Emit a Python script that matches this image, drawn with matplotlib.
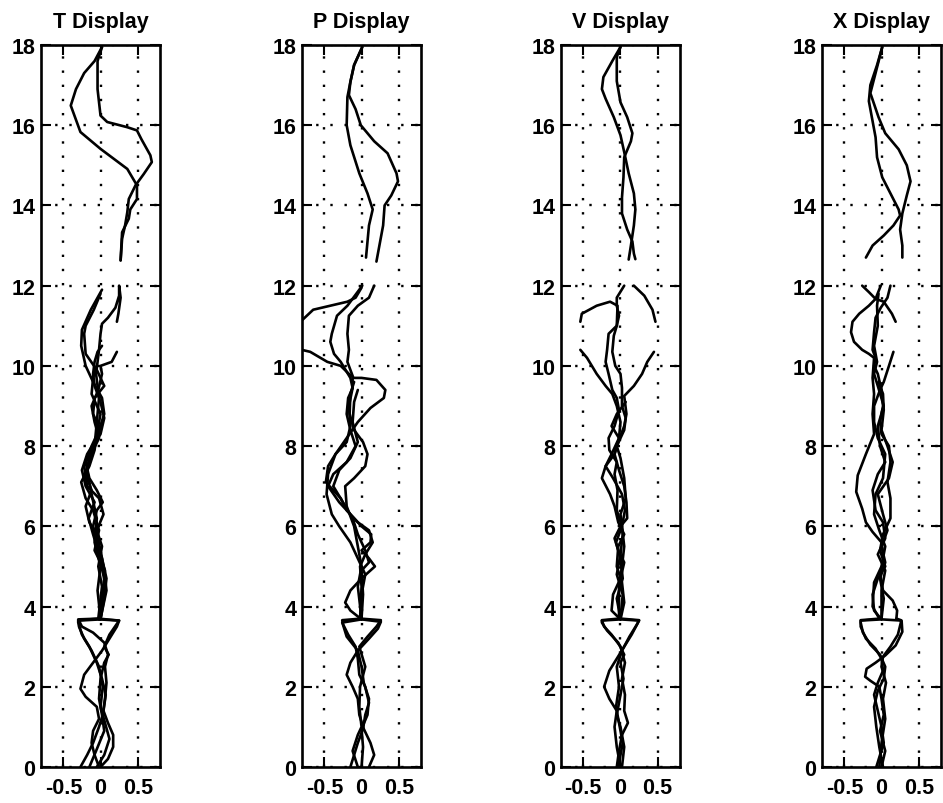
import matplotlib
matplotlib.use('Agg')
import matplotlib.pyplot as plt

plt.rcParams['font.family'] = ['Liberation Sans', 'DejaVu Sans']
plt.rcParams['axes.unicode_minus'] = False

titles = ['T Display', 'P Display', 'V Display', 'X Display']
x_ticks = [-0.5, 0, 0.5]
x_labels = ['-0.5', '0', '0.5']
y_ticks = [0, 2, 4, 6, 8, 10, 12, 14, 16, 18]
y_labels = ['0', '2', '4', '6', '8', '10', '12', '14', '16', '18']

# ---------------- T Display ----------------
t_low_1 = [(-0.27,0.0),(-0.18,0.3),(-0.1,0.6),(-0.02,1.0),(0.03,1.3),(0.06,1.7),(0.08,2.1),(0.06,2.5),(0.1,2.8),(0.05,3.1),(-0.1,3.35),(-0.25,3.5),(-0.29,3.65),(0.0,3.68)]
t_low_2 = [(-0.02,0.0),(-0.08,0.3),(-0.12,0.6),(-0.1,0.9),(-0.02,1.2),(-0.05,1.5),(-0.2,1.75),(-0.27,1.95),(-0.22,2.3),(-0.1,2.6),(0.02,2.9),(0.12,3.2),(0.22,3.5),(0.25,3.65),(-0.02,3.68)]
t_low_3 = [(0.0,0.0),(0.1,0.2),(0.17,0.5),(0.17,0.8),(0.1,1.1),(0.04,1.4),(0.07,1.8),(0.02,2.2),(-0.05,2.6),(-0.15,3.0),(-0.25,3.3),(-0.3,3.6),(-0.3,3.68),(0.0,3.7)]
t_low_4 = [(-0.15,0.0),(-0.06,0.4),(0.05,0.9),(0.02,1.3),(-0.02,1.7),(0.0,2.2),(0.05,2.6),(0.11,2.8),(0.05,3.0),(0.12,3.3),(0.25,3.65),(-0.03,3.7)]
t_low_5 = [(-0.05,0.0),(0.05,0.3),(0.12,0.7),(0.06,1.1),(0.0,1.5),(0.03,2.0),(-0.02,2.5),(-0.12,2.9),(-0.22,3.2),(-0.29,3.5),(-0.29,3.66),(0.0,3.7)]
t_up_1 = [(0.0,3.68),(0.05,4.2),(0.08,4.7),(0.02,5.2),(-0.05,5.6),(-0.1,6.0),(-0.05,6.4),(0.03,6.6),(-0.05,6.9),(-0.15,7.2),(-0.2,7.6),(-0.12,8.0),(-0.02,8.4),(0.05,8.8),(0.02,9.2),(-0.1,9.6),(-0.2,10.0),(-0.26,10.5),(-0.25,10.9),(-0.13,11.4),(0.02,11.9)]
t_up_2 = [(-0.02,3.68),(0.03,4.3),(0.06,4.9),(-0.02,5.3),(-0.1,5.8),(-0.16,6.2),(-0.08,6.6),(-0.2,7.0),(-0.25,7.4),(-0.18,7.8),(-0.08,8.1),(0.0,8.4),(-0.1,8.8),(-0.08,9.2),(0.05,9.5),(-0.05,9.9),(-0.2,10.3),(-0.22,10.8),(-0.2,11.0),(-0.09,11.4),(0.0,11.8)]
t_up_3 = [(0.0,3.7),(0.08,4.4),(0.05,4.9),(0.0,5.4),(-0.05,5.8),(-0.15,6.1),(-0.2,6.5),(-0.12,6.9),(-0.2,7.3),(-0.15,7.7),(-0.02,8.2),(-0.08,8.6),(-0.12,9.0),(-0.03,9.4),(0.02,9.8),(0.0,10.0),(0.15,10.1),(0.22,10.35)]
t_up_4 = [(-0.03,3.7),(0.02,4.5),(-0.03,5.0),(0.02,5.5),(-0.05,5.9),(0.04,6.3),(-0.02,6.7),(-0.18,7.0),(-0.22,7.5),(-0.12,7.9),(0.0,8.3),(0.05,8.7),(0.0,9.1),(-0.08,9.5),(-0.1,9.8),(-0.08,10.1),(-0.04,10.35),(0.02,10.5)]
t_up_5 = [(0.0,3.7),(-0.04,4.4),(0.0,5.0),(-0.08,5.6),(-0.05,6.2),(-0.12,6.8),(-0.18,7.4),(-0.08,8.0),(-0.05,8.6),(-0.02,9.2),(-0.06,9.8),(-0.02,10.4),(0.0,10.8),(0.02,11.05),(0.1,11.2),(0.2,11.45),(0.25,11.75),(0.25,12.0),(0.27,11.7),(0.24,11.3),(0.22,11.1)]
t_up_6 = [(0.0,3.7),(0.06,4.6),(0.0,5.1),(-0.08,5.4),(-0.02,5.9),(-0.1,6.4),(-0.2,6.7),(-0.26,7.1),(-0.15,7.5),(-0.08,7.9),(-0.05,8.3),(0.0,8.8),(-0.12,9.3),(-0.1,9.7),(-0.05,10.0)]
t_top_1 = [(0.27,12.63),(0.29,13.33),(0.38,13.67),(0.40,13.9),(0.49,14.16),(0.49,14.5),(0.36,14.91),(0.0,15.41),(-0.27,15.83),(-0.40,16.49),(-0.33,16.9),(-0.22,17.3),(-0.08,17.6),(0.02,17.95)]
t_top_2 = [(0.27,12.63),(0.29,13.17),(0.33,13.5),(0.36,13.83),(0.38,14.16),(0.47,14.5),(0.58,14.78),(0.69,15.08),(0.67,15.25),(0.55,15.65),(0.49,15.87),(0.36,15.95),(0.09,16.08),(0.0,16.24),(-0.04,16.9),(-0.04,17.6),(0.02,17.95)]

# ---------------- P Display ----------------
p_low_1 = [(-0.15,0.0),(-0.1,0.3),(-0.05,0.6),(0.02,0.95),(0.05,1.3),(0.1,1.6),(0.05,2.0),(-0.03,2.3),(-0.05,2.7),(-0.08,3.0),(-0.18,3.3),(-0.26,3.6),(0.0,3.68)]
p_low_2 = [(0.1,0.0),(0.17,0.3),(0.12,0.6),(0.03,0.95),(-0.03,1.3),(-0.05,1.7),(-0.12,2.0),(-0.2,2.3),(-0.15,2.6),(-0.05,2.9),(0.1,3.2),(0.22,3.45),(0.26,3.62),(0.0,3.68)]
p_low_3 = [(0.0,0.0),(0.02,0.5),(0.0,0.95),(0.08,1.3),(0.1,1.7),(0.03,2.1),(0.0,2.5),(-0.05,2.9),(-0.2,3.25),(-0.25,3.55),(-0.26,3.66),(0.0,3.7)]
p_low_4 = [(-0.05,0.0),(-0.12,0.4),(-0.05,0.8),(0.0,1.0),(-0.03,1.5),(-0.02,2.0),(0.05,2.5),(-0.03,3.0),(0.08,3.25),(0.2,3.5),(0.26,3.66),(-0.02,3.7)]
p_up_1 = [(0.0,3.68),(-0.15,3.9),(-0.22,4.1),(-0.15,4.4),(0.0,4.7),(0.18,5.0),(0.1,5.2),(0.0,5.4),(0.12,5.6),(0.13,5.8),(0.0,6.0),(-0.15,6.3),(-0.3,6.6),(-0.45,7.0),(-0.38,7.3),(-0.2,7.6),(-0.08,8.0),(-0.15,8.4),(-0.2,8.8),(-0.18,9.2),(-0.12,9.45),(-0.12,9.75),(-0.19,10.1),(-0.17,10.4),(-0.19,10.8),(-0.17,11.25),(-0.05,11.5),(0.1,11.7),(0.17,12.0)]
p_up_2 = [(0.0,3.68),(0.0,4.3),(0.05,4.8),(-0.05,5.2),(-0.15,5.6),(-0.3,6.0),(-0.4,6.3),(-0.47,6.8),(-0.45,7.3),(-0.35,7.8),(-0.2,8.2),(-0.05,8.6),(0.12,8.95),(0.3,9.2),(0.32,9.4),(0.2,9.65),(0.0,9.7),(-0.1,9.7),(-0.17,9.8),(-0.28,10.0),(-0.46,10.1),(-0.69,10.35),(-0.85,10.42)]
p_up_3 = [(-0.02,3.7),(0.0,4.5),(-0.02,5.0),(0.05,5.3),(0.15,5.6),(0.1,5.9),(-0.05,6.1),(-0.2,6.4),(-0.28,6.7),(-0.48,7.1),(-0.45,7.5),(-0.35,7.8),(-0.2,8.1),(-0.15,8.5),(-0.17,9.0),(-0.12,9.45),(-0.15,9.7),(-0.28,10.1),(-0.37,10.3),(-0.42,10.6),(-0.4,10.8),(-0.33,11.25),(-0.19,11.5),(0.01,12.0)]
p_up_4 = [(0.0,3.7),(-0.05,4.5),(0.0,5.0),(-0.05,5.5),(-0.1,6.0),(-0.2,6.5),(-0.22,7.0),(-0.1,7.2),(0.05,7.5),(0.08,7.8),(0.02,8.1),(-0.1,8.4),(-0.16,8.8),(-0.15,9.3),(-0.1,9.6)]
p_up_5 = [(0.0,3.7),(0.02,4.3),(0.0,4.9),(0.1,5.1),(0.05,5.4),(-0.05,5.8),(-0.12,6.2),(-0.25,6.6),(-0.38,7.0),(-0.3,7.4),(-0.15,7.7),(-0.05,8.1),(-0.12,8.6),(-0.1,9.1),(-0.05,9.4)]
p_edge = [(0.0,11.95),(-0.08,11.7),(-0.19,11.6),(-0.42,11.5),(-0.65,11.4),(-0.85,11.05)]
p_top_1 = [(0.06,12.7),(0.08,13.1),(0.10,13.5),(0.15,13.9),(0.08,14.3),(-0.03,14.8),(-0.15,15.5),(-0.2,16.0),(-0.19,16.7),(-0.15,17.08),(-0.10,17.5),(0.01,17.95)]
p_top_2 = [(0.2,12.6),(0.24,13.0),(0.29,13.5),(0.31,14.0),(0.40,14.25),(0.49,14.6),(0.47,14.8),(0.35,15.3),(0.17,15.6),(-0.01,16.0),(-0.08,16.4),(-0.17,16.75),(-0.15,17.08),(-0.1,17.5),(0.01,17.95)]

# ---------------- V Display ----------------
v_low_1 = [(-0.05,0.0),(-0.02,0.4),(0.02,0.8),(0.1,1.1),(0.05,1.4),(0.06,1.8),(0.02,2.2),(0.06,2.6),(0.0,3.0),(-0.12,3.3),(-0.22,3.5),(-0.25,3.65),(0.0,3.68)]
v_low_2 = [(0.0,0.0),(-0.05,0.5),(-0.08,1.0),(-0.05,1.4),(-0.15,1.7),(-0.22,2.0),(-0.15,2.4),(-0.05,2.7),(0.05,3.0),(0.15,3.3),(0.25,3.65),(0.0,3.68)]
v_low_3 = [(0.02,0.0),(0.05,0.5),(0.0,1.0),(-0.05,1.3),(0.0,1.8),(0.04,2.2),(0.0,2.6),(0.05,2.8),(-0.03,3.1),(-0.18,3.4),(-0.25,3.6),(-0.25,3.66),(-0.02,3.7)]
v_low_4 = [(-0.03,0.0),(0.03,0.6),(-0.02,1.1),(-0.06,1.5),(-0.02,2.0),(-0.05,2.5),(0.02,2.9),(0.12,3.25),(0.22,3.55),(0.25,3.66),(0.0,3.7)]
v_up_1 = [(0.0,3.68),(-0.12,3.9),(-0.1,4.3),(0.0,4.7),(0.05,5.1),(-0.03,5.4),(-0.08,5.7),(0.0,6.0),(0.09,6.2),(0.08,6.6),(0.05,7.0),(-0.02,7.4),(-0.08,7.8),(-0.02,8.2),(0.0,8.6),(-0.05,9.0),(-0.11,9.3),(-0.2,9.5),(-0.32,9.8),(-0.45,10.2),(-0.54,10.4)]
v_up_2 = [(0.0,3.68),(0.05,4.1),(0.02,4.6),(-0.05,5.0),(-0.03,5.5),(0.05,5.8),(-0.03,6.1),(-0.08,6.5),(-0.14,6.8),(-0.25,7.2),(-0.2,7.5),(-0.08,7.8),(-0.03,8.1),(0.05,8.5),(0.08,8.8),(0.05,9.25),(0.18,9.5),(0.29,9.8),(0.36,10.1),(0.45,10.35)]
v_up_3 = [(-0.02,3.7),(-0.02,4.5),(0.02,5.0),(0.05,5.5),(0.02,6.0),(-0.05,6.4),(-0.04,6.9),(-0.08,7.3),(-0.05,7.6),(-0.15,7.9),(-0.16,8.2),(-0.08,8.5),(-0.02,8.9),(-0.05,9.2),(-0.11,9.4),(-0.16,9.8),(-0.2,10.1),(-0.18,10.4),(-0.16,10.8),(-0.05,11.0),(-0.02,11.25),(-0.05,11.5),(-0.05,11.7),(0.05,12.0)]
v_up_4 = [(0.0,3.7),(0.03,4.3),(-0.05,4.8),(0.0,5.3),(0.03,5.8),(0.0,6.3),(0.07,6.7),(0.05,7.2),(0.0,7.7),(-0.05,8.0),(0.05,8.4),(0.07,8.7),(0.02,9.0),(0.02,9.45),(0.0,9.8),(-0.07,10.0),(-0.11,10.35),(-0.09,10.75),(-0.05,11.0),(-0.04,11.5),(-0.14,11.6),(-0.32,11.5),(-0.52,11.3),(-0.54,11.1)]
v_up_5 = [(0.0,3.7),(-0.05,4.2),(0.03,4.7),(0.0,5.2),(-0.06,5.6),(0.02,6.0),(0.06,6.4),(0.02,6.8),(-0.1,7.2),(-0.2,7.5),(-0.12,7.8),(-0.02,8.2),(-0.12,8.5),(-0.05,8.8),(0.07,9.1)]
v_arc = [(0.18,12.0),(0.32,11.75),(0.43,11.4),(0.47,11.1)]
v_top_1 = [(0.11,12.65),(0.14,13.0),(0.18,13.5),(0.2,13.9),(0.18,14.3),(0.11,14.8),(0.05,15.33),(0.0,15.75),(-0.09,16.2),(-0.2,16.66),(-0.25,16.9),(-0.23,17.2),(-0.11,17.6),(0.0,17.95)]
v_top_2 = [(0.2,12.66),(0.18,12.8),(0.16,13.1),(0.09,13.4),(0.02,13.8),(0.02,14.2),(0.04,14.7),(0.05,15.2),(0.14,15.6),(0.16,15.8),(0.09,16.2),(0.0,16.57),(-0.05,17.1),(-0.05,17.7),(0.0,17.95)]

# ---------------- X Display ----------------
x_low_1 = [(-0.07,0.0),(-0.02,0.3),(0.03,0.6),(0.0,1.0),(-0.05,1.4),(-0.1,1.8),(-0.05,2.1),(0.02,2.4),(0.0,2.7),(-0.08,2.95),(-0.21,3.2),(-0.28,3.5),(-0.28,3.65),(0.0,3.68)]
x_low_2 = [(0.0,0.0),(0.05,0.4),(-0.02,0.9),(0.03,1.3),(0.0,1.7),(-0.03,2.0),(-0.15,2.15),(-0.22,2.25),(-0.2,2.45),(-0.08,2.6),(0.05,2.78),(0.19,3.03),(0.28,3.37),(0.27,3.65),(0.0,3.68)]
x_low_3 = [(0.02,0.0),(-0.03,0.5),(-0.07,1.0),(-0.1,1.5),(-0.05,1.9),(0.03,2.2),(0.05,2.5),(-0.02,2.8),(-0.15,3.05),(-0.25,3.35),(-0.28,3.6),(-0.28,3.66),(-0.02,3.7)]
x_low_4 = [(-0.03,0.0),(0.0,0.6),(0.05,1.2),(0.02,1.7),(0.06,2.1),(0.0,2.5),(0.02,2.75),(0.12,3.0),(0.22,3.3),(0.26,3.6),(0.26,3.66),(0.2,3.7)]
x_up_1 = [(0.2,3.7),(0.21,3.9),(0.15,4.15),(0.02,4.4),(-0.02,4.8),(0.03,5.2),(0.0,5.6),(-0.12,5.86),(-0.21,6.1),(-0.26,6.44),(-0.34,6.86),(-0.32,7.27),(-0.21,7.8),(-0.1,8.3),(-0.12,8.8),(-0.1,9.3),(-0.12,9.7),(-0.1,10.2),(-0.17,10.3),(-0.26,10.4),(-0.37,10.6),(-0.41,10.84),(-0.39,11.1),(-0.3,11.3),(-0.17,11.5),(-0.08,11.67),(-0.01,12.0)]
x_up_2 = [(0.0,3.68),(-0.1,3.9),(-0.12,4.3),(-0.05,4.7),(0.05,5.0),(-0.02,5.4),(0.02,5.8),(0.12,6.2),(0.12,6.7),(0.08,7.1),(0.12,7.6),(0.1,8.0),(0.0,8.3),(-0.02,8.6),(0.02,9.0),(0.0,9.4),(-0.05,9.8),(-0.1,10.0),(-0.08,10.2),(-0.12,10.4),(-0.1,10.84),(-0.08,11.2),(-0.01,11.45),(0.08,11.7),(0.12,12.0)]
x_up_3 = [(0.0,3.7),(0.0,4.4),(0.05,4.9),(-0.05,5.3),(0.05,5.7),(0.02,6.1),(-0.08,6.4),(-0.12,6.9),(-0.05,7.3),(0.05,7.6),(-0.02,8.0),(-0.05,8.5),(0.03,9.0),(-0.05,9.5),(-0.1,9.8),(-0.06,10.1),(-0.1,10.5),(-0.05,11.0),(-0.06,11.5),(-0.04,11.8)]
x_up_4 = [(-0.03,3.7),(-0.12,4.0),(-0.1,4.6),(0.0,5.0),(0.05,5.5),(-0.03,5.9),(-0.1,6.3),(-0.08,6.8),(0.02,7.2),(0.05,7.8),(-0.05,8.2),(-0.1,8.6),(-0.1,9.0),(-0.02,9.4),(0.03,9.6),(0.1,10.0),(0.16,10.35)]
x_up_5 = [(0.0,3.7),(0.03,4.2),(-0.02,4.7),(0.05,5.1),(0.0,5.5),(0.08,5.9),(0.02,6.3),(-0.05,6.8),(0.1,7.2),(0.15,7.6),(0.08,8.0),(0.0,8.4),(0.03,8.9),(0.02,9.3),(-0.04,9.6)]
x_cross = [(-0.26,12.0),(-0.17,11.84),(-0.08,11.67),(0.03,11.6),(0.14,11.3),(0.19,11.1)]
x_top_1 = [(-0.21,12.7),(-0.12,13.0),(0.03,13.25),(0.16,13.5),(0.25,13.75),(0.23,13.9),(0.12,14.3),(0.01,14.7),(-0.06,15.2),(-0.08,15.7),(-0.12,16.1),(-0.17,16.6),(-0.15,17.0),(-0.06,17.5),(0.01,17.95)]
x_top_2 = [(0.28,12.7),(0.28,13.0),(0.25,13.4),(0.28,13.8),(0.34,14.25),(0.39,14.6),(0.34,15.0),(0.23,15.4),(0.05,15.8),(-0.04,16.2),(-0.15,16.8),(-0.08,17.3),(0.01,17.95)]

panels = [
    [t_low_1, t_low_2, t_low_3, t_low_4, t_low_5, t_up_1, t_up_2, t_up_3, t_up_4, t_up_5, t_up_6, t_top_1, t_top_2],
    [p_low_1, p_low_2, p_low_3, p_low_4, p_up_1, p_up_2, p_up_3, p_up_4, p_up_5, p_edge, p_top_1, p_top_2],
    [v_low_1, v_low_2, v_low_3, v_low_4, v_up_1, v_up_2, v_up_3, v_up_4, v_up_5, v_arc, v_top_1, v_top_2],
    [x_low_1, x_low_2, x_low_3, x_low_4, x_up_1, x_up_2, x_up_3, x_up_4, x_up_5, x_cross, x_top_1, x_top_2],
]

fig = plt.figure(figsize=(9.43, 8.04), dpi=100)
lefts = [0.0435, 0.3203, 0.5949, 0.8717]
for left, title, curves in zip(lefts, titles, panels):
    ax = fig.add_axes([left, 0.0448, 0.1262, 0.898])
    for c in curves:
        xs = [p[0] for p in c]
        ys = [p[1] for p in c]
        ax.plot(xs, ys, color='black', linewidth=1.9, solid_joinstyle='round', solid_capstyle='round')
    ax.set_xlim(-0.8, 0.8)
    ax.set_ylim(0, 18)
    ax.set_xticks(x_ticks)
    ax.set_xticklabels(x_labels)
    ax.set_yticks(y_ticks)
    ax.set_yticklabels(y_labels)
    ax.grid(True, color='black', linestyle=(0, (1, 5)), linewidth=1.7)
    ax.tick_params(direction='in', length=7, width=1.5, top=True, right=True,
                   labelsize=15.5, pad=4)
    ax.tick_params(axis='x', pad=7)
    for lbl in ax.get_xticklabels() + ax.get_yticklabels():
        lbl.set_fontweight('bold')
    for s in ax.spines.values():
        s.set_linewidth(1.9)
    ax.set_title(title, fontsize=15.5, fontweight='bold', pad=13)

fig.savefig('out.png', dpi=100)
